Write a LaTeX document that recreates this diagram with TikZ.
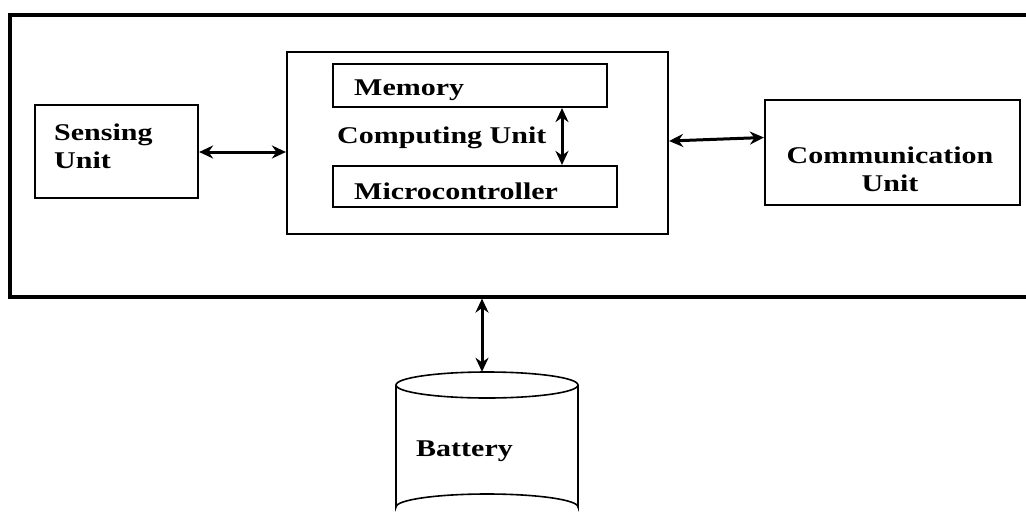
\documentclass[tikz,border=0pt]{standalone}
\usepackage{fontspec}
\setmainfont{Liberation Serif}[FakeStretch=1.25]
\usetikzlibrary{arrows.meta}
\begin{document}
\begin{tikzpicture}[x=1pt,y=-1pt,
  blk/.style={draw,line width=2.2pt,inner sep=0pt},
  lbl/.style={font=\fontsize{24}{28}\selectfont\bfseries,inner sep=0pt,align=left},
  arr/.style={line width=3pt,{Stealth[length=14pt,width=13pt]}-{Stealth[length=14pt,width=13pt]}}]
\useasboundingbox (0,0) rectangle (1026,512);
\clip (0,0) rectangle (1026,512);
\fill[white] (0,0) rectangle (1026,512);
% outer system box
\node[blk,line width=3.2pt,minimum width=1030pt,minimum height=282pt] (sys) at (525,156) {};
% sensing unit
\node[blk,minimum width=163pt,minimum height=93pt] (sens) at (116.5,151.5) {};
\node[lbl,anchor=west] (senst) at (54,146) {Sensing\\Unit};
% computing unit
\node[blk,minimum width=381pt,minimum height=182pt] (comp) at (477.5,143) {};
\node[blk,minimum width=274pt,minimum height=43pt] (mem) at (470,85.5) {};
\node[lbl,anchor=west] (memt) at (354,90) {Memory};
\node[blk,minimum width=284pt,minimum height=41pt] (mic) at (475,186.5) {};
\node[lbl,anchor=west] (mict) at (354,191) {Microcontroller};
\node[lbl,anchor=west] (compt) at (337,138) {Computing Unit};
% communication unit
\node[blk,minimum width=255pt,minimum height=105pt] (comm) at (892.5,152.5) {};
\node[lbl,align=center] (commt) at (890,169) {Communication\\Unit};
% battery
\node[minimum width=182pt,minimum height=140pt,inner sep=0pt] (bat) at (487,442) {};
\draw[line width=1.6pt,fill=white] (396,385) -- (396,507) arc[start angle=180,end angle=360,x radius=91,y radius=13] -- (578,385);
\draw[line width=1.6pt] (487,385) ellipse[x radius=91,y radius=13];
\node[lbl,anchor=west] (batt) at (416,451) {Battery};
% connectors
\coordinate (vx) at (562,0);
\coordinate (bx) at (482,0);
\draw[arr] (sens.east |- 0,152) -- (comp.west |- 0,152);
\draw[arr] (mem.south -| vx) -- (mic.north -| vx);
\draw[arr] ([yshift=2pt]comp.east) -- ([yshift=15pt]comm.west);
\draw[arr] (sys.south -| bx) -- (bat.north -| bx);
\end{tikzpicture}
\end{document}
